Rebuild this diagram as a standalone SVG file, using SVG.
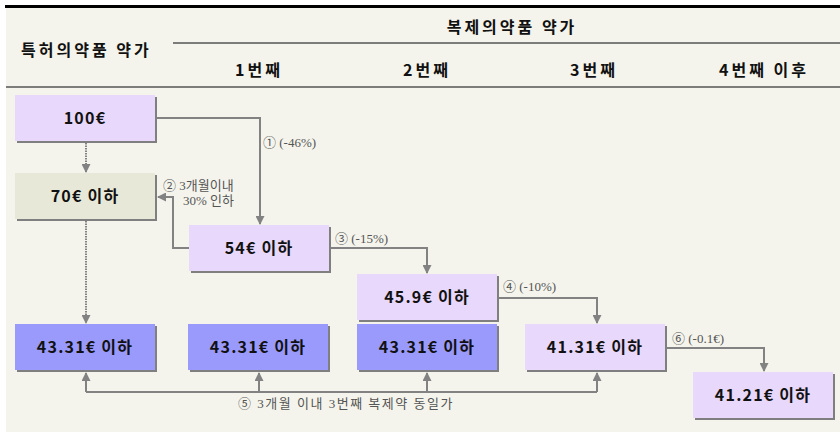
<svg xmlns="http://www.w3.org/2000/svg" width="840" height="432" viewBox="0 0 840 432">
<defs>
<marker id="ah" markerUnits="userSpaceOnUse" markerWidth="9" markerHeight="9" refX="8" refY="4.5" orient="auto">
<path d="M0,0 L9,4.5 L0,9 z" fill="#828282"/>
</marker>
<style>
.hdr{font-family:"Noto Sans CJK KR","Liberation Sans",sans-serif;font-weight:bold;font-size:16px;fill:#111;letter-spacing:3px}
.bx{font-family:"Noto Sans CJK KR","Liberation Sans",sans-serif;font-weight:bold;font-size:16px;fill:#111;text-anchor:middle;letter-spacing:1.2px}
.lb{font-family:"Liberation Serif","Noto Sans CJK KR",serif;font-size:13px;fill:#555}
.sh{fill:#7f7f7f}
.p{fill:#e8d8fb}
.o{fill:#e8e8d8}
.b{fill:#9a9afd}
.c{fill:none;stroke:#828282;stroke-width:2}
.d{fill:none;stroke:#828282;stroke-width:2;stroke-dasharray:1.5 1}
</style>
</defs>
<rect x="0" y="0" width="840" height="432" fill="#ffffff"/>
<rect x="6" y="7" width="834" height="425" fill="#f4f4ec"/>
<rect x="5" y="5" width="835" height="3" fill="#000"/>
<line x1="173" y1="43" x2="840" y2="43" stroke="#555" stroke-width="1.5"/>
<line x1="6" y1="87" x2="840" y2="87" stroke="#555" stroke-width="1.5"/>
<g id="header">
<text class="hdr" x="21" y="56">특허의약품 약가</text>
<text class="hdr" x="512" y="33" text-anchor="middle">복제의약품 약가</text>
<text class="hdr" x="259" y="76" text-anchor="middle">1번째</text>
<text class="hdr" x="427" y="76" text-anchor="middle">2번째</text>
<text class="hdr" x="594" y="76" text-anchor="middle">3번째</text>
<text class="hdr" x="764" y="76" text-anchor="middle">4번째 이후</text>
</g>
<g id="connectors">
<path class="c" d="M157,118 H260 V224" marker-end="url(#ah)"/>
<path class="d" d="M86,143 V172" marker-end="url(#ah)"/>
<path class="c" d="M189,248 H173 V197 H158" marker-end="url(#ah)"/>
<path class="c" d="M331,248 H427 V273" marker-end="url(#ah)"/>
<path class="c" d="M497,298 H597 V323" marker-end="url(#ah)"/>
<path class="c" d="M667,348 H764 V371" marker-end="url(#ah)"/>
<path class="d" d="M86,221 V323" marker-end="url(#ah)"/>
<path class="c" d="M86,392 H597"/>
<path class="c" d="M86,392 V373" marker-end="url(#ah)"/>
<path class="c" d="M259,392 V373" marker-end="url(#ah)"/>
<path class="c" d="M427,392 V373" marker-end="url(#ah)"/>
<path class="c" d="M597,392 V373" marker-end="url(#ah)"/>
<text class="lb" x="263" y="147">① (-46%)</text>
<text class="lb" x="163" y="190">② 3개월이내</text>
<text class="lb" x="183" y="205">30% 인하</text>
<text class="lb" x="335" y="243">③ (-15%)</text>
<text class="lb" x="503" y="291">④ (-10%)</text>
<text class="lb" x="672" y="343">⑥ (-0.1€)</text>
<text class="lb" x="346" y="408" text-anchor="middle" letter-spacing="1.5">⑤ 3개월 이내 3번째 복제약 동일가</text>
</g>
<g id="n100">
<rect class="sh" x="17" y="97" width="140" height="46"/>
<rect class="p" x="15" y="95" width="140" height="46"/>
<text class="bx" x="85" y="124">100€</text>
</g>
<g id="n70">
<rect class="sh" x="17" y="175" width="140" height="46"/>
<rect class="o" x="15" y="173" width="140" height="46"/>
<text class="bx" x="85" y="202">70€ 이하</text>
</g>
<g id="n54">
<rect class="sh" x="191" y="227" width="140" height="46"/>
<rect class="p" x="189" y="225" width="140" height="46"/>
<text class="bx" x="259" y="254">54€ 이하</text>
</g>
<g id="n459">
<rect class="sh" x="359" y="276" width="140" height="46"/>
<rect class="p" x="357" y="274" width="140" height="46"/>
<text class="bx" x="427" y="303">45.9€ 이하</text>
</g>
<g id="g1">
<rect class="sh" x="17" y="326" width="140" height="46"/>
<rect class="b" x="15" y="324" width="140" height="46"/>
<text class="bx" x="85" y="353">43.31€ 이하</text>
</g>
<g id="g2">
<rect class="sh" x="190" y="326" width="140" height="46"/>
<rect class="b" x="188" y="324" width="140" height="46"/>
<text class="bx" x="258" y="353">43.31€ 이하</text>
</g>
<g id="g3">
<rect class="sh" x="359" y="326" width="140" height="46"/>
<rect class="b" x="357" y="324" width="140" height="46"/>
<text class="bx" x="427" y="353">43.31€ 이하</text>
</g>
<g id="n4131">
<rect class="sh" x="527" y="326" width="140" height="46"/>
<rect class="p" x="525" y="324" width="140" height="46"/>
<text class="bx" x="595" y="353">41.31€ 이하</text>
</g>
<g id="n4121">
<rect class="sh" x="695" y="374" width="140" height="46"/>
<rect class="p" x="693" y="372" width="140" height="46"/>
<text class="bx" x="763" y="401">41.21€ 이하</text>
</g>
</svg>
